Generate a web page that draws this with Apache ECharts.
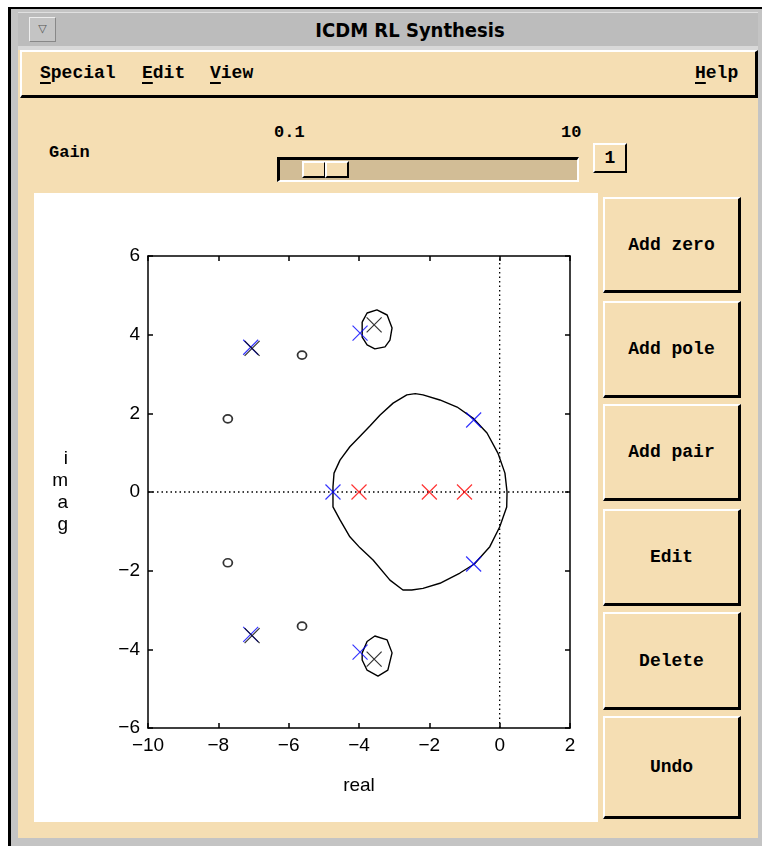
<!DOCTYPE html>
<html><head><meta charset="utf-8">
<script src="https://cdn.jsdelivr.net/npm/echarts@6/dist/echarts.min.js"></script>
<style>
body{margin:0;width:762px;height:846px;background:#fff;position:relative;overflow:hidden;font-family:"Liberation Mono","DejaVu Sans Mono",monospace;}
.a{position:absolute;box-sizing:border-box;}
.tan{background:#f5deb3;}
.raised{border-top:2px solid #fff;border-left:2px solid #fff;border-bottom:3px solid #000;border-right:3px solid #000;}
.mono{font-family:"Liberation Mono","DejaVu Sans Mono",monospace;font-weight:bold;font-size:18px;color:#000;white-space:nowrap;}
.btn{display:flex;align-items:center;justify-content:center;}
u{text-underline-offset:4px;text-decoration-thickness:2px;}
</style></head><body>
<!-- window frame -->
<div class="a" style="left:8px;top:7px;width:754px;height:839px;background:#c4c4c4;border-left:3px solid #000;border-top:2px solid #000;"></div>
<div class="a" style="left:18px;top:12px;width:740px;height:34px;background:#bcbcbc;border-top:1px solid #e0e0e0;"></div>
<div class="a" style="left:18px;top:46px;width:740px;height:4px;background:#d8d8d8;"></div>
<div class="a" style="left:29px;top:17px;width:27px;height:25px;background:#c4c4c4;border-top:1px solid #eee;border-left:1px solid #eee;border-bottom:1px solid #888;border-right:1px solid #888;font-family:'DejaVu Sans';font-size:11px;color:#555;text-align:center;line-height:22px;">▽</div>
<div class="a" style="left:18px;top:13px;width:784px;height:34px;text-align:center;line-height:34px;font-family:'DejaVu Sans Condensed','DejaVu Sans',sans-serif;font-weight:bold;font-size:20px;color:#000;">ICDM RL Synthesis</div>
<!-- main tan area -->
<div class="a tan" style="left:18px;top:50px;width:740px;height:788px;"></div>
<!-- menu bar -->
<div class="a tan raised" style="left:20px;top:50px;width:738px;height:48px;"></div>
<div class="a mono" style="left:40px;top:63px;"><u>S</u>pecial</div>
<div class="a mono" style="left:142px;top:63px;"><u>E</u>dit</div>
<div class="a mono" style="left:210px;top:63px;"><u>V</u>iew</div>
<div class="a mono" style="left:695px;top:63px;"><u>H</u>elp</div>
<!-- gain -->
<div class="a mono" style="left:49px;top:143px;font-size:17px;">Gain</div>
<div class="a mono" style="left:274px;top:123px;font-size:17px;">0.1</div>
<div class="a mono" style="left:561px;top:123px;font-size:17px;">10</div>
<div class="a" style="left:277px;top:157px;width:302px;height:25px;background:#d2bd96;border-top:3px solid #000;border-left:3px solid #000;border-bottom:2px solid #fff;border-right:2px solid #fff;"></div>
<div class="a tan" style="left:302px;top:161px;width:24px;height:17px;border-top:2px solid #fff;border-left:2px solid #fff;border-bottom:2px solid #000;border-right:2px solid #000;"></div>
<div class="a tan" style="left:325px;top:161px;width:24px;height:17px;border-top:2px solid #fff;border-left:2px solid #fff;border-bottom:2px solid #000;border-right:2px solid #000;"></div>
<div class="a tan mono btn" style="left:593px;top:143px;width:34px;height:30px;border-top:2px solid #fff;border-left:2px solid #fff;border-bottom:2px solid #000;border-right:2px solid #000;">1</div>
<!-- plot panel -->
<div class="a" style="left:34px;top:193px;width:564px;height:629px;background:#fff;"></div>
<div id="chart" class="a" style="left:34px;top:193px;width:564px;height:629px;"></div>
<!-- buttons -->
<div class="a tan raised mono btn" style="left:603px;top:197px;width:138px;height:96px;">Add zero</div>
<div class="a tan raised mono btn" style="left:603px;top:301px;width:138px;height:97px;">Add pole</div>
<div class="a tan raised mono btn" style="left:603px;top:404px;width:138px;height:97px;">Add pair</div>
<div class="a tan raised mono btn" style="left:603px;top:509px;width:138px;height:97px;">Edit</div>
<div class="a tan raised mono btn" style="left:603px;top:612px;width:138px;height:98px;">Delete</div>
<div class="a tan raised mono btn" style="left:603px;top:716px;width:138px;height:103px;">Undo</div>
<script>
// ---- data ----
var xTicks = [-10, -8, -6, -4, -2, 0, 2];
var yTicks = [-6, -4, -2, 0, 2, 4, 6];
var zeros = [[-5.62, 3.48], [-5.62, -3.41], [-7.73, 1.86], [-7.73, -1.80]];
var openPoles = [[-7.04, 3.65], [-7.04, -3.65], [-3.57, 4.25], [-3.57, -4.25]];
var realPoles = [[-4, 0], [-2, 0], [-1, 0]];
var closedPoles = [[-7.08, 3.68], [-7.08, -3.62], [-3.97, 4.04], [-3.97, -4.07], [-0.74, 1.83], [-0.74, -1.83], [-4.74, 0]];
var mainLocus = [[-4.74,0.0],[-4.74,0.13],[-4.71,0.48],[-4.54,0.81],[-4.26,1.15],[-3.97,1.42],[-3.69,1.68],[-3.40,1.96],[-3.03,2.26],[-2.64,2.47],[-2.40,2.50],[-2.18,2.47],[-1.70,2.34],[-1.21,2.16],[-0.76,1.88],[-0.36,1.50],[-0.05,0.99],[0.15,0.48],[0.21,0.0],
  [0.20,-0.38],[0.0,-0.89],[-0.28,-1.39],[-0.72,-1.83],[-1.13,-2.06],[-1.70,-2.32],[-2.18,-2.45],[-2.50,-2.49],[-2.75,-2.49],[-3.12,-2.24],[-3.60,-1.73],[-3.97,-1.42],[-4.26,-1.14],[-4.54,-0.71],[-4.74,-0.38],[-4.74,0]];
var upperLoop = [[-3.91,4.32],[-3.77,4.55],[-3.49,4.63],[-3.20,4.50],[-3.06,4.17],[-3.12,3.86],[-3.26,3.69],[-3.55,3.64],[-3.77,3.74],[-3.91,3.94],[-3.91,4.32]];
var lowerLoop = [[-3.91,-4.09],[-3.77,-3.80],[-3.55,-3.66],[-3.20,-3.76],[-3.06,-4.09],[-3.18,-4.53],[-3.46,-4.68],[-3.77,-4.53],[-3.91,-4.27],[-3.91,-4.09]];
var realAxisLine = [[-10, 0], [2, 0]];
var imagAxisLine = [[0, -6], [0, 6]];

var XPATH = 'path://M0,0L10,10M10,0L0,10';
var chart = echarts.init(document.getElementById('chart'), null, {renderer: 'canvas'});
function fmt(v){ return String(v).replace('-', '\u2212'); }
var labelFont = {fontFamily: 'Liberation Sans, Arial, sans-serif', fontSize: 19, color: '#000'};
function axisBase(extra){
  return Object.assign({
    type: 'value', splitLine: {show: false},
    axisLine: {show: true, onZero: false, lineStyle: {color: '#000', width: 1.5}},
    axisTick: {show: true, inside: true, length: 5, lineStyle: {color: '#000', width: 1.5}}
  }, extra);
}
function lineSeries(data, dotted){
  return {type: 'line', data: data, showSymbol: false, symbol: 'none', smooth: false, silent: true,
    xAxisIndex: 0, yAxisIndex: 0, z: dotted ? 1 : 2,
    lineStyle: {color: '#000', width: dotted ? 1.3 : 1.4, type: dotted ? [1.5, 3] : 'solid'}};
}
function xSeries(data, color, z){
  return {type: 'scatter', data: data, symbol: XPATH, symbolSize: 15, z: z, silent: true,
    itemStyle: {color: 'rgba(0,0,0,0)', borderColor: color, borderWidth: 1.2}};
}
chart.setOption({
  animation: false,
  grid: {left: 114, top: 63, width: 422, height: 472, show: false},
  xAxis: [
    axisBase({min: xTicks[0], max: xTicks[xTicks.length-1], interval: 2, position: 'bottom',
      name: 'real', nameLocation: 'middle', nameGap: 48,
      nameTextStyle: Object.assign({}, labelFont, {fontSize: 19}),
      axisLabel: Object.assign({margin: 8, formatter: fmt}, labelFont)}),
    axisBase({min: xTicks[0], max: xTicks[xTicks.length-1], interval: 2, position: 'top', axisLabel: {show: false}})
  ],
  yAxis: [
    axisBase({min: yTicks[0], max: yTicks[yTicks.length-1], interval: 2, position: 'left',
      name: 'i\nm\na\ng', nameLocation: 'middle', nameRotate: 0, nameGap: 80,
      nameTextStyle: Object.assign({}, labelFont, {fontSize: 19, lineHeight: 22}),
      axisLabel: Object.assign({margin: 8, formatter: fmt}, labelFont)}),
    axisBase({min: yTicks[0], max: yTicks[yTicks.length-1], interval: 2, position: 'right', axisLabel: {show: false}})
  ],
  series: [
    lineSeries(realAxisLine, true),
    lineSeries(imagAxisLine, true),
    lineSeries(mainLocus, false),
    lineSeries(upperLoop, false),
    lineSeries(lowerLoop, false),
    {type: 'scatter', data: zeros, symbol: 'circle', symbolSize: [9, 8], z: 3, silent: true,
      itemStyle: {color: '#fff', borderColor: '#000', borderWidth: 1.7}},
    xSeries(closedPoles, '#0000ff', 3),
    xSeries(openPoles, '#000000', 4),
    xSeries(realPoles, '#ff0000', 4)
  ]
});
</script>
</body></html>
